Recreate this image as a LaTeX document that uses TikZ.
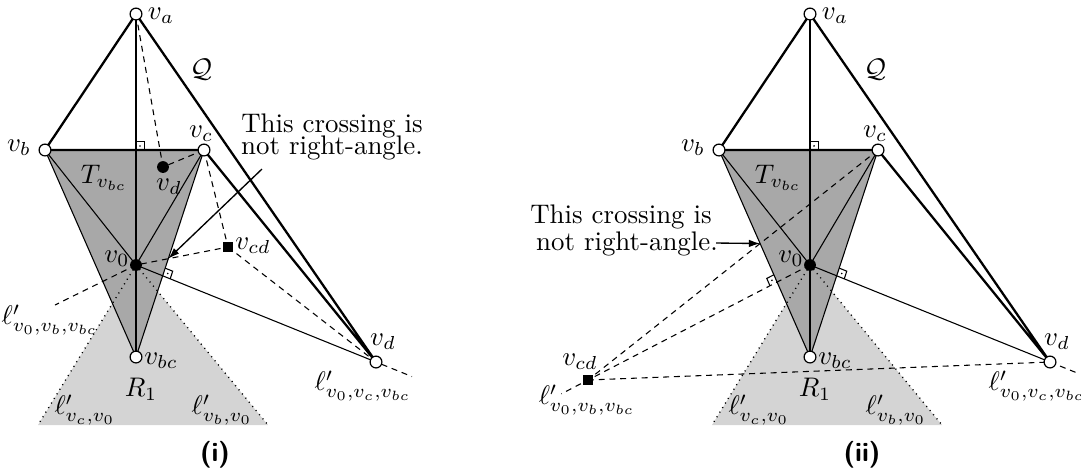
\documentclass[tikz,border=0pt]{standalone}
\usetikzlibrary{calc,arrows.meta}
\newcommand{\ramark}[4]{%
  \coordinate (#4a) at ($(#1)!3pt!(#2)$);
  \coordinate (#4b) at ($(#1)!3pt!(#3)$);
  \coordinate (#4c) at ($(#4a)+(#4b)-(#1)$);
  \draw[thn] (#4a) -- (#4c) -- (#4b);
  \fill ($(#1)!0.5!(#4c)$) circle (0.35pt);
}
\begin{document}
\begin{tikzpicture}[x=0.372pt,y=-0.372pt,
  thk/.style={line width=0.85pt},
  thn/.style={line width=0.4pt},
  dsh/.style={line width=0.4pt,dash pattern=on 2.2pt off 1.8pt},
  dtd/.style={line width=0.5pt,dash pattern=on 0.4pt off 1.6pt},
  opn/.style={circle,draw,fill=white,line width=0.45pt,inner sep=0pt,minimum size=4.4pt},
  blk/.style={circle,fill=black,inner sep=0pt,minimum size=4.4pt},
  sqr/.style={rectangle,fill=black,inner sep=0pt,minimum size=3.8pt},
  lbl/.style={inner sep=0pt},
  txt/.style={inner sep=0pt,anchor=base},
  capstyle/.style={inner sep=0pt,font=\sffamily\bfseries\fontsize{10}{12}\selectfont},
  arr/.style={line width=0.5pt,-{Latex[length=4.2pt,width=2.8pt]}},
  darkfill/.style={fill=black!34},
  lightfill/.style={fill=black!17}]
\useasboundingbox (0,0) rectangle (1081,472);

% ================= panel (i) =================
\coordinate (Lva) at (136,14);
\coordinate (Lvb) at (45,150);
\coordinate (Lvc) at (204,150);
\coordinate (Lvd) at (376,362);
\coordinate (Lv0) at (136,265);
\coordinate (Lvbc) at (136,357);
\coordinate (Lvcd) at (228,247);
\coordinate (Lvdd) at (163,167);
\coordinate (Lc1) at (38,425);
\coordinate (Lc2) at (268,425);
\coordinate (Ltop) at (136,150);
\coordinate (Lext) at ($(Lv0)!1.15!(Lvd)$);
\coordinate (Lleft) at (55,305);

\fill[lightfill] (Lv0) -- (Lc1) -- (Lc2) -- cycle;
\fill[darkfill] (Lvb) -- (Lvc) -- (Lvbc) -- cycle;
\draw[thn] (Lvb) -- (Lvbc) -- (Lvc);
\draw[thn] (Lvb) -- (Lv0) -- (Lvc);
\draw[thn] (Lva) -- (Lvbc);
\draw[thn] (Lv0) -- (Lvd);
\draw[dtd] (Lv0) -- (Lc1);
\draw[dtd] (Lv0) -- (Lc2);
\draw[dsh] (Lva) -- (Lvdd) -- (Lvc);
\draw[dsh] (Lvc) -- (Lvcd) -- (Lv0) -- (Lleft);
\draw[dsh] (Lvcd) -- (Lvd) -- (Lext);
\draw[thk] (Lva) -- (Lvb) -- (Lvc) -- (Lvd) -- (Lva);

\coordinate (LP1) at (intersection of Lv0--Lvd and Lvc--Lvbc);
\ramark{LP1}{Lvd}{Lvc}{LmA}
\ramark{Ltop}{Lva}{Lvc}{LmB}

\coordinate (LX) at (intersection of Lvcd--Lv0 and Lvc--Lvbc);
\coordinate (Ltail) at (262,169);
\draw[arr] (Ltail) -- (LX);

\node[opn] (nLva) at (Lva) {};
\node[opn] (nLvb) at (Lvb) {};
\node[opn] (nLvc) at (Lvc) {};
\node[opn] (nLvd) at (Lvd) {};
\node[opn] (nLvbc) at (Lvbc) {};
\node[blk] (nLv0) at (Lv0) {};
\node[blk] (nLvdd) at (Lvdd) {};
\node[sqr] (nLvcd) at (Lvcd) {};

\node[lbl] (tLva) at (161,16) {$v_a$};
\node[lbl] (tLQ) at (201,70) {$\mathcal{Q}$};
\node[lbl] (tLvb) at (19,148) {$v_b$};
\node[lbl] (tLvc) at (201,134) {$v_c$};
\node[lbl] (tLT) at (104,178) {$T_{v_{bc}}$};
\node[lbl] (tLvdd) at (169,187) {$v_d$};
\node[lbl] (tLv0) at (117,259) {$v_0$};
\node[lbl] (tLvcd) at (253,246) {$v_{cd}$};
\node[lbl] (tLl1) at (50,320) {$\ell'_{v_0,v_b,v_{bc}}$};
\node[lbl] (tLvbc) at (161,361) {$v_{bc}$};
\node[lbl] (tLR) at (141,389) {$R_1$};
\node[lbl] (tLl2) at (85,410) {$\ell'_{v_c,v_0}$};
\node[lbl] (tLl3) at (222,410) {$\ell'_{v_b,v_0}$};
\node[lbl] (tLvd) at (383,342) {$v_d$};
\node[lbl] (tLl4) at (363,386) {$\ell'_{v_0,v_c,v_{bc}}$};
\node[txt] (tLs1) at (332,132) {This crossing is};
\node[txt] (tLs2) at (332,154) {not right-angle.};
\node[capstyle] (capL) at (215,455) {(i)};

% ================= panel (ii) =================
\begin{scope}[shift={(674,0)}]
\coordinate (Rva) at (136,14);
\coordinate (Rvb) at (45,150);
\coordinate (Rvc) at (204,150);
\coordinate (Rvd) at (376,362);
\coordinate (Rv0) at (136,265);
\coordinate (Rvbc) at (136,357);
\coordinate (Rc1) at (38,425);
\coordinate (Rc2) at (268,425);
\coordinate (Rtop) at (136,150);
\end{scope}
\coordinate (Rvcd) at (588,380);
\coordinate (Rext) at ($(Rv0)!1.11!(Rvd)$);
\coordinate (Rext2) at ($(Rv0)!1.12!(Rvcd)$);

\fill[lightfill] (Rv0) -- (Rc1) -- (Rc2) -- cycle;
\fill[darkfill] (Rvb) -- (Rvc) -- (Rvbc) -- cycle;
\draw[thn] (Rvb) -- (Rvbc) -- (Rvc);
\draw[thn] (Rvb) -- (Rv0) -- (Rvc);
\draw[thn] (Rva) -- (Rvbc);
\draw[thn] (Rv0) -- (Rvd);
\draw[dtd] (Rv0) -- (Rc1);
\draw[dtd] (Rv0) -- (Rc2);
\draw[dsh] (Rvc) -- (Rvcd);
\draw[dsh] (Rv0) -- (Rext2);
\draw[dsh] (Rvcd) -- (Rvd) -- (Rext);
\draw[thk] (Rva) -- (Rvb) -- (Rvc) -- (Rvd) -- (Rva);

\coordinate (RP1) at (intersection of Rv0--Rvd and Rvc--Rvbc);
\ramark{RP1}{Rvd}{Rvc}{RmA}
\ramark{Rtop}{Rva}{Rvc}{RmB}
\coordinate (RP2) at (intersection of Rv0--Rvcd and Rvb--Rvbc);
\ramark{RP2}{Rvcd}{Rvb}{RmC}

\coordinate (RX) at (intersection of Rvcd--Rvc and Rvb--Rvbc);
\coordinate (Rtail) at (716,243);
\draw[arr] (Rtail) -- (RX);

\node[opn] (nRva) at (Rva) {};
\node[opn] (nRvb) at (Rvb) {};
\node[opn] (nRvc) at (Rvc) {};
\node[opn] (nRvd) at (Rvd) {};
\node[opn] (nRvbc) at (Rvbc) {};
\node[blk] (nRv0) at (Rv0) {};
\node[sqr] (nRvcd) at (Rvcd) {};

\node[lbl] (tRva) at (835,16) {$v_a$};
\node[lbl] (tRQ) at (875,70) {$\mathcal{Q}$};
\node[lbl] (tRvb) at (693,148) {$v_b$};
\node[lbl] (tRvc) at (875,134) {$v_c$};
\node[lbl] (tRT) at (778,178) {$T_{v_{bc}}$};
\node[lbl] (tRv0) at (791,259) {$v_0$};
\node[lbl] (tRvcd) at (580,362) {$v_{cd}$};
\node[lbl] (tRl1) at (587,400) {$\ell'_{v_0,v_b,v_{bc}}$};
\node[lbl] (tRvbc) at (835,361) {$v_{bc}$};
\node[lbl] (tRR) at (815,389) {$R_1$};
\node[lbl] (tRl2) at (759,410) {$\ell'_{v_c,v_0}$};
\node[lbl] (tRl3) at (896,410) {$\ell'_{v_b,v_0}$};
\node[lbl] (tRvd) at (1057,342) {$v_d$};
\node[lbl] (tRl4) at (1037,386) {$\ell'_{v_0,v_c,v_{bc}}$};
\node[txt] (tRs1) at (621,223) {This crossing is};
\node[txt] (tRs2) at (627,250) {not right-angle.};
\node[capstyle] (capR) at (862,455) {(ii)};
\end{tikzpicture}
\end{document}
